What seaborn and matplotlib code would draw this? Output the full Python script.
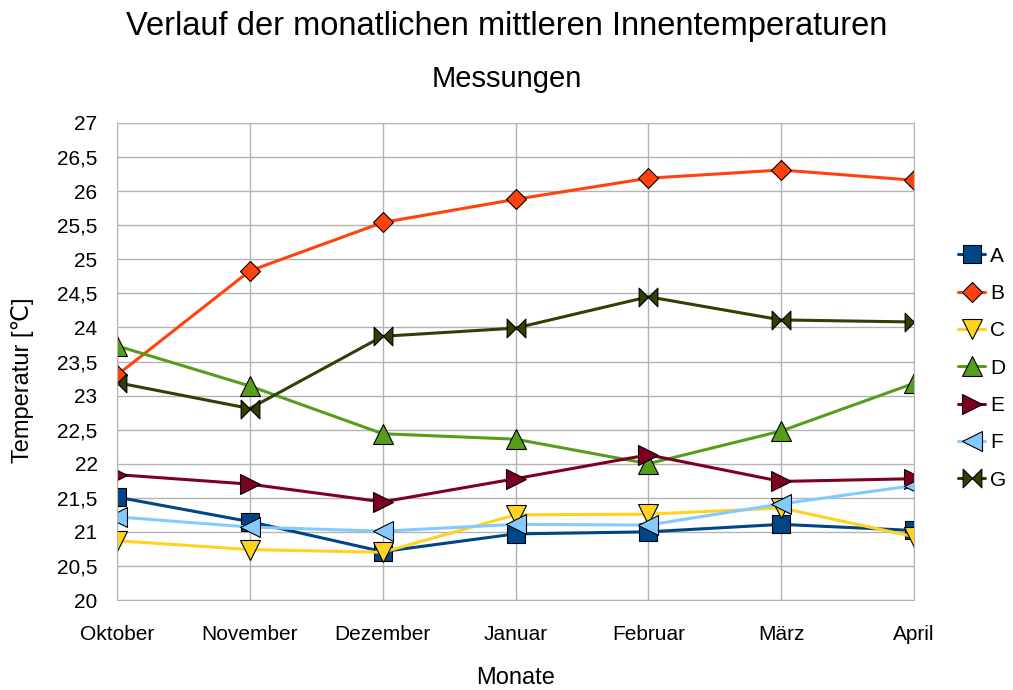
import numpy as np
import pandas as pd
import seaborn as sns
import matplotlib.pyplot as plt
from matplotlib.path import Path

# Monate und Messreihen
monate = ["Oktober", "November", "Dezember", "Januar", "Februar", "März", "April"]
serie_a = [21.51, 21.15, 20.71, 20.97, 21.00, 21.11, 21.02]
serie_b = [23.30, 24.83, 25.54, 25.88, 26.19, 26.31, 26.16]
serie_c = [20.87, 20.74, 20.70, 21.25, 21.26, 21.35, 20.93]
serie_d = [23.73, 23.14, 22.44, 22.36, 22.00, 22.48, 23.18]
serie_e = [21.84, 21.70, 21.44, 21.78, 22.13, 21.74, 21.78]
serie_f = [21.22, 21.07, 21.01, 21.11, 21.10, 21.41, 21.68]
serie_g = [23.19, 22.81, 23.87, 23.99, 24.45, 24.11, 24.08]

namen = ["A", "B", "C", "D", "E", "F", "G"]
werte = [serie_a, serie_b, serie_c, serie_d, serie_e, serie_f, serie_g]

farben = ["#004586", "#ff420e", "#ffd320", "#579d1c", "#7e0021", "#83caff", "#314004"]

# Schleifen-Marker fuer G (zwei Dreiecke, Spitzen zur Mitte)
bowtie = Path([(-1, -1), (0, 0), (-1, 1), (-1, -1), (1, -1), (0, 0), (1, 1), (1, -1)],
              [Path.MOVETO, Path.LINETO, Path.LINETO, Path.CLOSEPOLY,
               Path.MOVETO, Path.LINETO, Path.LINETO, Path.CLOSEPOLY])
marker = ["s", "D", "v", "^", ">", "<", bowtie]
groesse = [13, 10.5, 14, 14, 14, 14, 13.5]

df = pd.DataFrame({
    "Monat": np.tile(monate, len(namen)),
    "Temperatur": np.concatenate(werte),
    "Serie": np.repeat(namen, len(monate)),
})
df["x"] = np.tile(np.arange(len(monate)), len(namen))

sns.set_style("white")
plt.rcParams["font.family"] = ["Liberation Sans", "DejaVu Sans"]
plt.rcParams["text.color"] = "black"
plt.rcParams["axes.labelcolor"] = "black"

fig = plt.figure(figsize=(10.13, 6.9), dpi=100)
ax = fig.add_axes([117 / 1013, 90 / 690, 797 / 1013, 477 / 690])

for i, name in enumerate(namen):
    sub = df[df["Serie"] == name]
    sns.lineplot(data=sub, x="x", y="Temperatur", ax=ax, color=farben[i],
                 linewidth=2.2, marker=marker[i], markersize=groesse[i],
                 markerfacecolor=farben[i], markeredgecolor="black",
                 markeredgewidth=0.8, label=name)

ax.set_xlim(0, len(monate) - 1)
ax.set_ylim(20, 27)
ax.set_xticks(range(len(monate)))
ax.set_xticklabels(monate, fontsize=15)
yt = np.arange(20, 27.01, 0.5)
ax.set_yticks(yt)
ax.set_yticklabels([f"{v:g}".replace(".", ",") for v in yt], fontsize=15)
ax.grid(True, color="#b3b3b3", linewidth=1)
ax.set_axisbelow(True)
for s in ax.spines.values():
    s.set_color("#b3b3b3")
ax.tick_params(axis="both", length=8, color="#b3b3b3", labelcolor="black")
ax.tick_params(axis="y", pad=6)
ax.tick_params(axis="x", pad=10)
ax.set_xlabel("Monate", fontsize=17)
ax.set_ylabel("Temperatur [℃]", fontsize=17)
ax.xaxis.set_label_coords(0.5, (600 - 667) / 477)
ax.yaxis.set_label_coords((34 - 117) / 797, (600 - 380) / 477)

fig.text(0.5, 1 - 26 / 690, "Verlauf der monatlichen mittleren Innentemperaturen",
         ha="center", va="center", fontsize=23.5)
fig.text(0.5, 1 - 79 / 690, "Messungen", ha="center", va="center", fontsize=21)

ax.legend(loc="center left", bbox_to_anchor=((958 - 117) / 797, 0.486),
          frameon=False, fontsize=15, handlelength=1.3, handletextpad=0.25,
          labelspacing=0.88, borderaxespad=0, borderpad=0)

plt.savefig("out.png", dpi=100)
